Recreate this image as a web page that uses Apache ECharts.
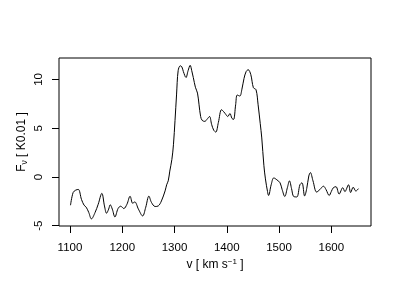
<!DOCTYPE html>
<html>
<head>
<meta charset="utf-8">
<script src="https://cdn.jsdelivr.net/npm/echarts@6/dist/echarts.min.js"></script>
<style>html,body{margin:0;padding:0;background:#fff}#c{width:400px;height:300px}</style>
</head>
<body>
<div id="c"></div>
<script>
var velocity = [1101,1106,1111,1116,1122,1127,1131,1136,1141,1148,1154,1161,1166,1170,1174,1177,1181,1186,1192,1197,1203,1209,1215,1220,1224,1231,1239,1245,1251,1256,1263,1269,1275,1282,1285,1288,1291,1295,1298,1301,1304,1307,1311,1314,1317,1322,1326,1330,1333,1336,1340,1344,1347,1350,1353,1358,1362,1367,1371,1375,1379,1384,1390,1394,1397,1402,1406,1410,1413,1417,1420,1425,1429,1433,1437,1441,1446,1451,1456,1460,1464,1467,1471,1474,1478,1480,1485,1490,1496,1502,1506,1511,1516,1520,1524,1528,1534,1540,1544,1549,1553,1557,1560,1565,1572,1578,1585,1590,1596,1600,1604,1609,1615,1622,1626,1633,1637,1642,1647,1652];
var flux = [-2.9,-1.6,-1.35,-1.28,-2.3,-2.9,-3.1,-3.65,-4.3,-3.65,-2.8,-1.68,-2.97,-3.72,-3.3,-2.85,-3.3,-4.1,-3.24,-3.0,-3.24,-2.8,-1.98,-2.7,-2.56,-3.3,-4.0,-3.1,-1.97,-2.62,-3.03,-2.97,-2.46,-1.43,-0.8,-0.4,0.6,1.8,3.3,5.8,8.5,10.9,11.4,11.3,10.8,10.2,10.9,11.45,10.9,10.2,9.2,8.6,7.4,6.2,5.8,5.7,5.9,6.2,5.4,4.8,4.6,5.6,6.9,6.7,6.5,6.2,6.5,6.0,5.9,7.4,8.4,8.3,9.0,10.1,10.8,11.0,10.5,9.15,8.95,7.4,5.5,4.0,1.2,-0.2,-1.5,-1.9,-0.8,-0.1,-0.3,-0.6,-1.3,-2.0,-1.1,-0.4,-1.2,-2.0,-2.05,-0.8,-0.6,-1.95,-1.2,0.1,0.45,-0.4,-1.55,-1.3,-0.95,-1.3,-1.9,-1.5,-1.1,-1.0,-1.75,-1.1,-1.5,-0.8,-1.6,-1.05,-1.45,-1.2];
var xTicks = [1100,1200,1300,1400,1500,1600];
var yTicks = [-5,0,5,10];

var points = velocity.map(function(v,i){return [v, flux[i]];});
var font = "'Liberation Sans', Arial, sans-serif";
var plain = function(v){return String(v);};
var chart = echarts.init(document.getElementById('c'), null, {renderer:'canvas'});
chart.setOption({
  animation:false,
  backgroundColor:'#fff',
  grid:{left:59,right:29,top:58,bottom:74,show:true,borderColor:'#000',borderWidth:1,backgroundColor:'transparent'},
  xAxis:{
    type:'value', min:1079, max:1676,
    axisLine:{show:false, onZero:false},
    splitLine:{show:false},
    axisTick:{show:true, customValues:xTicks, length:7, inside:false, lineStyle:{color:'#000'}},
    axisLabel:{customValues:xTicks, formatter:plain, margin:16, color:'#000', fontSize:11.5, fontFamily:font},
    name:'v [ km s{sup|−1} ]',
    nameLocation:'middle', nameGap:32, nameMoveOverlap:false,
    nameTextStyle:{color:'#000', fontSize:12, fontFamily:font,
      rich:{sup:{fontSize:8, verticalAlign:'top', padding:[0,0,6,0], color:'#000', fontFamily:font}}}
  },
  yAxis:{
    type:'value', min:-5.03, max:12.2,
    axisLine:{show:false, onZero:false},
    splitLine:{show:false},
    axisTick:{show:true, customValues:yTicks, length:7, lineStyle:{color:'#000'}},
    axisLabel:{customValues:yTicks, formatter:plain, rotate:90, margin:14, color:'#000', fontSize:11.5, fontFamily:font},
    name:'F{sub|ν} [ K0.01 ]',
    nameLocation:'middle', nameGap:30, nameRotate:90, nameMoveOverlap:false,
    nameTextStyle:{color:'#000', fontSize:12, fontFamily:font,
      rich:{sub:{fontSize:8.5, padding:[5,0,0,0], color:'#000', fontFamily:font}}}
  },
  series:[{
    type:'line', data:points, showSymbol:false, smooth:0.35,
    lineStyle:{color:'#000', width:1}
  }]
});
</script>
</body>
</html>
